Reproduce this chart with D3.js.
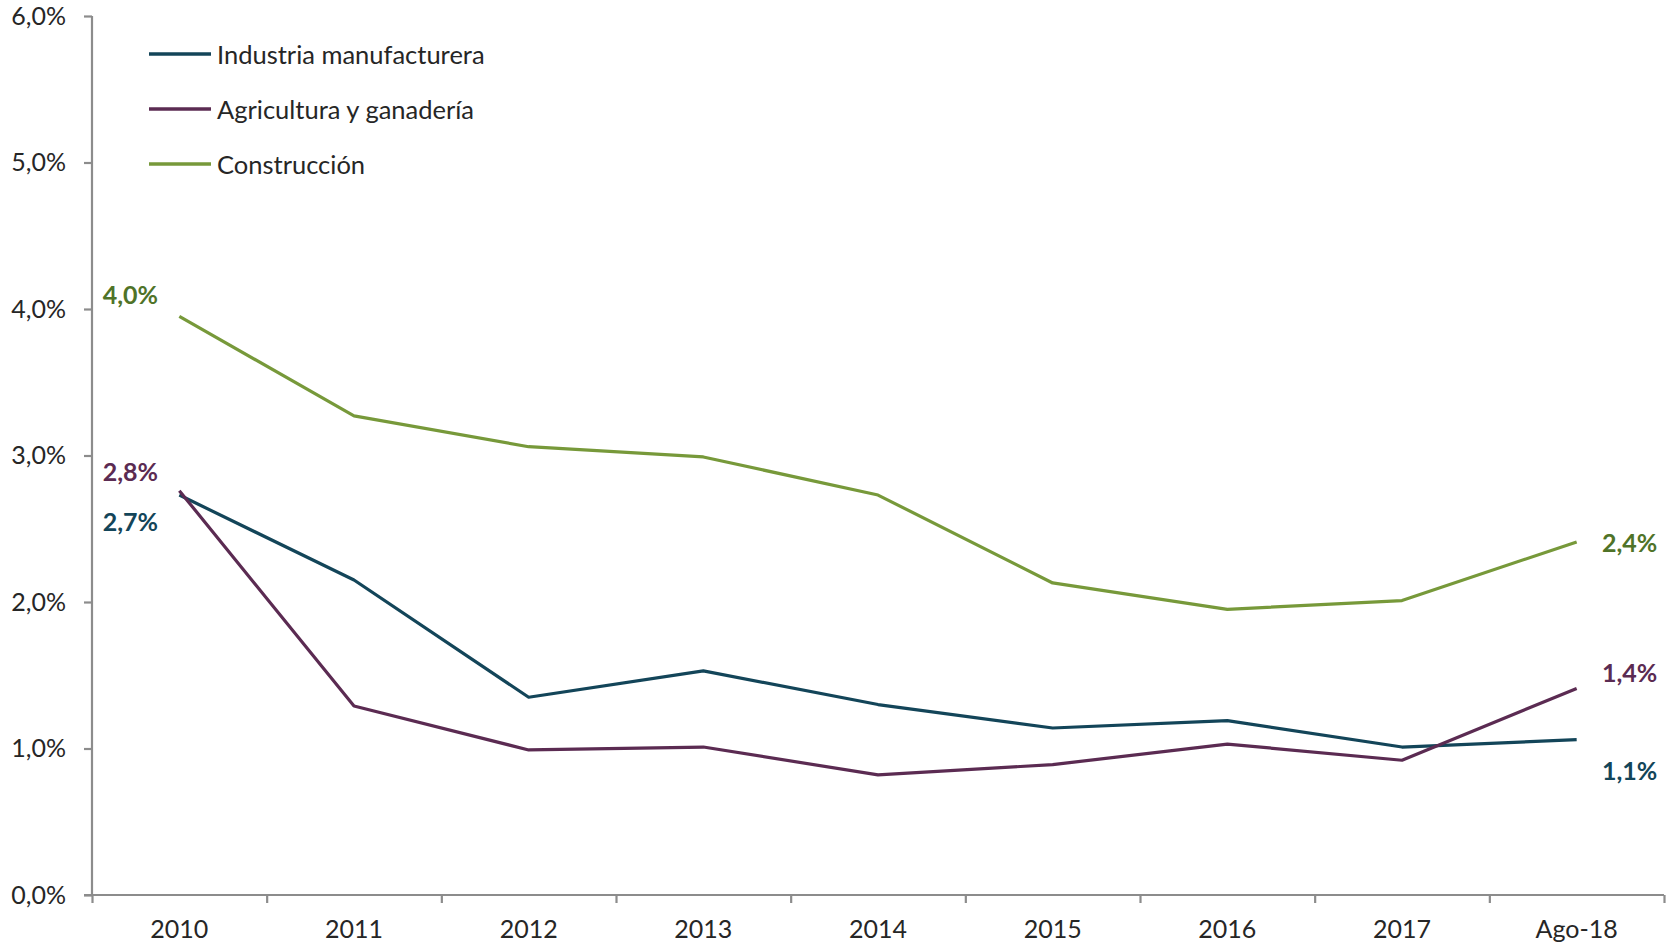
<!DOCTYPE html>
<html><head><meta charset="utf-8">
<script src="https://cdn.jsdelivr.net/npm/d3@7"></script>
<style>
body{margin:0;background:#fff;}
svg{display:block;font-family:Lato,"Open Sans",sans-serif;}
</style></head>
<body><svg id="c" width="1671" height="945"></svg>
<script>
const categories = ["2010","2011","2012","2013","2014","2015","2016","2017","Ago-18"];
const industria = [2.73,2.15,1.35,1.53,1.30,1.14,1.19,1.01,1.06];
const agricultura = [2.76,1.29,0.99,1.01,0.82,0.89,1.03,0.92,1.41];
const construccion = [3.95,3.27,3.06,2.99,2.73,2.13,1.95,2.01,2.41];
const seriesNames = ["Industria manufacturera","Agricultura y ganadería","Construcción"];
const seriesColors = ["#134559","#5B2B52","#77993A"];
const labelColors = ["#134559","#5B2B52","#4F7328"];
const yTicks = [0,1,2,3,4,5,6];

const svg = d3.select("#c");
const x = d3.scaleBand().domain(categories).range([92,1664]);
const xb = d3.scaleLinear().domain([0,categories.length]).range([92,1664]);
const y = d3.scaleLinear().domain([0,6]).range([895,16]);
const fmt = v => d3.format(".1f")(v).replace(".",",") + "%";

// y axis
const ya = svg.append("g").attr("transform","translate(92,0)")
  .call(d3.axisLeft(y).tickValues(yTicks).tickSize(8).tickPadding(18).tickFormat(fmt));
ya.select(".domain").attr("stroke","#8c8c8c").attr("stroke-width",2.2).attr("d","M0,"+y(6)+"V"+y(0));
ya.selectAll(".tick line").attr("stroke","#8c8c8c").attr("stroke-width",2.2);
ya.selectAll(".tick text").attr("font-size",25).attr("fill","#262626").attr("font-family","Lato");

// x axis boundaries
const xa = svg.append("g").attr("transform","translate(0,895)")
  .call(d3.axisBottom(xb).tickValues(d3.range(categories.length+1)).tickSize(8).tickFormat(""));
xa.select(".domain").attr("stroke","#8c8c8c").attr("stroke-width",2.2).attr("d","M84,0H1664");
xa.selectAll(".tick line").attr("stroke","#8c8c8c").attr("stroke-width",2.2);
// x labels
const xl = svg.append("g").attr("transform","translate(0,895)")
  .call(d3.axisBottom(x).tickSize(0).tickPadding(25));
xl.select(".domain").remove();
xl.selectAll(".tick text").attr("font-size",25).attr("fill","#262626").attr("font-family","Lato");

// lines
const allSeries = [industria, agricultura, construccion];
const line = d3.line().x((d,i)=>x(categories[i])+x.bandwidth()/2).y(d=>y(d));
[2,0,1].forEach(k=>{
  svg.append("path").datum(allSeries[k]).attr("d",line)
    .attr("fill","none").attr("stroke",seriesColors[k]).attr("stroke-width",3.2)
    .attr("stroke-linejoin","round");
});

// data labels at ends
const firstOffsets = [26,-20,-22];
const lastOffsets = [30,-16,0];
allSeries.forEach((s,k)=>{
  const x0 = x(categories[0])+x.bandwidth()/2 - 49;
  const x1 = x(categories[categories.length-1])+x.bandwidth()/2 + 53;
  svg.append("text").attr("x",x0).attr("y",y(s[0])+firstOffsets[k])
    .attr("text-anchor","middle").attr("dominant-baseline","central")
    .attr("font-size",25).attr("font-weight","bold").attr("fill",labelColors[k])
    .text(fmt(s[0]));
  svg.append("text").attr("x",x1).attr("y",y(s[s.length-1])+lastOffsets[k])
    .attr("text-anchor","middle").attr("dominant-baseline","central")
    .attr("font-size",25).attr("font-weight","bold").attr("fill",labelColors[k])
    .text(fmt(s[s.length-1]));
});

// legend
const lg = svg.append("g");
seriesNames.forEach((n,k)=>{
  const yy = 54 + k*55;
  lg.append("line").attr("x1",149).attr("x2",211).attr("y1",yy).attr("y2",yy)
    .attr("stroke",seriesColors[k]).attr("stroke-width",3.5);
  lg.append("text").attr("x",217).attr("y",yy).attr("dominant-baseline","central")
    .attr("font-size",25.5).attr("fill","#262626").text(n);
});
</script></body></html>
